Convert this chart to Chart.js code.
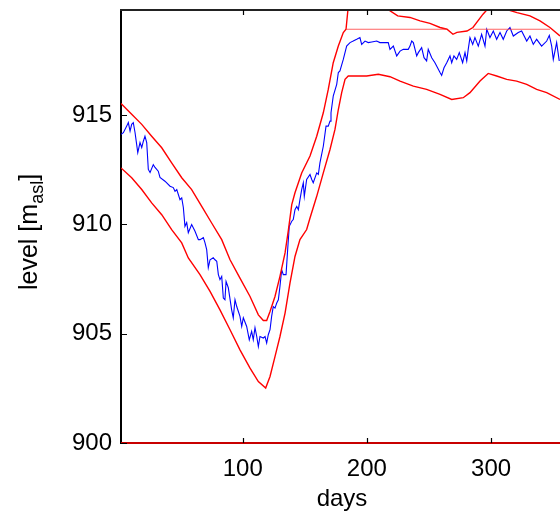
<!DOCTYPE html>
<html>
<head>
<meta charset="utf-8">
<script src="https://cdn.jsdelivr.net/npm/chart.js@4.4.0/dist/chart.umd.min.js"></script>
<style>
  html, body { margin: 0; padding: 0; background: #fff; overflow: hidden; }
  canvas { display: block; }
</style>
</head>
<body>
<canvas id="myChart" width="560" height="515"></canvas>
<script>
// observed reservoir level (blue)
const obsDays = [2.0, 3.9, 6.6, 7.9, 9.3, 10.6, 11.9, 13.3, 15.5, 17.3, 18.7, 20.0, 21.3, 22.7, 24.0, 25.4, 28.0, 29.4, 32.0, 33.4,
  37.4, 41.5, 44.1, 45.5, 46.9, 49.5, 50.9, 52.2, 53.5, 54.9, 56.2, 58.9, 61.6, 64.3, 65.6, 68.3, 69.6, 71.0, 72.3, 73.7,
  76.3, 77.7, 79.1, 80.4, 81.7, 83.1, 84.4, 85.7, 86.6, 88.4, 91.1, 92.4, 93.8, 95.2, 97.8, 99.2, 100.5, 103.2, 105.3, 107.2,
  108.5, 109.9, 111.3, 112.6, 113.9, 116.6, 118.0, 119.3, 120.6, 122.0, 123.3, 124.6, 126.0, 127.4, 128.7, 130.0, 131.4, 132.7, 134.9, 136.2,
  137.5, 139.5, 140.7, 142.1, 143.5, 144.8, 146.1, 147.5, 148.8, 149.6, 151.5, 154.2, 155.6, 156.8, 159.6, 160.9, 162.2, 164.9, 167.1, 168.9,
  170.3, 171.1, 172.9, 175.7, 177.0, 178.3, 181.0, 183.7, 186.4, 189.0, 191.8, 194.4, 195.8, 198.5, 201.1, 203.9, 207.9, 210.5, 217.2, 218.6,
  221.3, 224.0, 226.7, 229.3, 233.3, 234.7, 236.1, 237.4, 240.1, 241.4, 244.1, 246.0, 248.1, 249.4, 252.2, 254.8, 258.9, 260.2, 262.1, 264.3,
  266.9, 268.3, 270.1, 272.3, 274.4, 277.1, 279.0, 280.4, 281.6, 283.0, 285.2, 287.0, 289.7, 292.4, 295.1, 296.5, 299.1, 301.8, 304.5, 307.2,
  309.8, 312.6, 315.2, 317.9, 321.9, 324.6, 328.7, 331.3, 334.0, 336.7, 340.7, 344.8, 346.9, 348.8, 350.1, 352.8, 354.9];
const obsLevel = [914.11, 914.19, 914.49, 914.65, 914.26, 914.57, 914.65, 914.20, 913.28, 913.74, 913.51, 913.80, 914.03, 913.74, 912.51, 912.37, 912.73, 912.60, 912.43, 912.14,
  911.97, 911.74, 911.68, 911.51, 911.59, 911.13, 911.21, 910.77, 909.91, 910.08, 909.62, 909.99, 909.68, 909.30, 909.30, 909.39, 909.16, 908.84, 908.02, 908.38,
  908.47, 908.38, 908.31, 907.70, 907.47, 907.62, 906.63, 906.55, 907.39, 907.10, 906.09, 905.73, 906.55, 906.24, 905.79, 905.33, 905.73, 905.33, 904.72, 905.10,
  904.72, 905.27, 904.87, 904.41, 904.87, 904.80, 904.87, 904.57, 904.95, 905.18, 905.79, 906.24, 906.17, 906.40, 906.55, 907.16, 907.92, 907.70, 907.70, 908.84,
  909.91, 910.14, 910.22, 910.67, 910.82, 910.67, 911.13, 911.59, 911.90, 911.28, 912.05, 912.28, 912.05, 911.90, 912.35, 912.28, 912.81, 913.57, 914.49, 914.49,
  914.72, 915.10, 915.86, 916.40, 916.94, 917.01, 917.54, 918.15, 918.31, 918.38, 918.46, 918.54, 918.23, 918.38, 918.31, 918.34, 918.38, 918.31, 918.31, 918.00,
  918.15, 917.70, 917.92, 918.00, 918.00, 918.15, 918.38, 918.31, 917.70, 917.85, 918.08, 917.62, 917.47, 918.00, 917.62, 917.39, 916.94, 916.81, 917.16, 917.39,
  917.70, 917.39, 917.70, 917.54, 917.85, 917.39, 917.85, 917.47, 918.00, 918.54, 918.23, 918.54, 918.15, 918.69, 918.15, 918.92, 918.54, 918.84, 918.46, 918.77,
  918.46, 918.84, 919.00, 918.61, 918.77, 918.84, 918.38, 918.61, 918.23, 918.46, 918.15, 918.38, 918.64, 918.15, 917.54, 918.31, 917.47];

// upper bound (red)
const upperDays = [2.0, 10.6, 18.7, 26.7, 34.8, 42.8, 50.9, 58.9, 67.0, 75.0, 83.1, 89.8, 97.8, 105.9, 112.6, 116.6, 119.3, 122.0, 126.0, 130.0,
  134.1, 136.7, 139.5, 142.1, 147.5, 154.2, 159.6, 164.9, 168.9, 172.9, 177.0, 181.0, 183.2, 184.8, 195.0, 205.0, 215.0, 224.8, 234.7, 242.8,
  250.8, 258.9, 264.5, 269.3, 272.5, 280.6, 285.4, 293.5, 297.5, 305.0, 312.8, 320.9, 331.3, 339.4, 347.4, 355.5];
const upperLevel = [915.53, 915.03, 914.57, 914.03, 913.50, 912.81, 912.13, 911.59, 910.82, 910.06, 909.30, 908.38, 907.54, 906.70, 905.86, 905.60, 905.60, 906.01, 906.70, 907.62,
  908.69, 909.70, 910.90, 911.44, 912.35, 913.12, 914.03, 915.10, 916.17, 917.39, 918.15, 918.77, 918.92, 919.85, 919.90, 919.95, 919.90, 919.53, 919.46, 919.30,
  919.19, 919.00, 918.92, 918.69, 918.78, 918.84, 919.00, 919.61, 919.86, 919.95, 919.82, 919.68, 919.53, 919.30, 919.00, 918.61];

// lower bound (red)
const lowerDays = [2.0, 10.6, 18.7, 26.7, 34.8, 42.8, 50.9, 56.2, 65.6, 73.7, 81.7, 89.8, 97.8, 105.9, 112.6, 118.5, 122.0, 126.0, 130.0, 134.1,
  138.1, 142.1, 146.1, 151.5, 154.2, 159.6, 164.9, 170.3, 174.3, 177.0, 179.7, 182.4, 185.0, 191.8, 199.8, 209.2, 218.6, 226.7, 237.4, 248.1,
  258.9, 268.3, 277.6, 283.0, 291.1, 297.7, 304.5, 312.6, 320.6, 328.7, 336.7, 344.8, 355.5];
const lowerLevel = [912.58, 912.13, 911.59, 910.98, 910.44, 909.76, 909.15, 908.46, 907.70, 906.93, 906.09, 905.18, 904.26, 903.42, 902.81, 902.51, 903.04, 903.95, 904.87, 905.94,
  907.32, 908.53, 909.30, 909.76, 910.29, 911.28, 912.35, 913.42, 914.34, 915.25, 916.02, 916.63, 916.78, 916.78, 916.78, 916.86, 916.75, 916.55, 916.32, 916.17,
  915.94, 915.71, 915.79, 916.02, 916.55, 916.90, 916.78, 916.63, 916.55, 916.40, 916.17, 916.02, 915.71];

// maximum operating level (light red) and minimum level (dark red)
const capDays = [183.2, 264.5, null, 285.4, 347.4];
const capLevel = [918.92, 918.92, null, 918.92, 918.92];
const minDays = [2, 355.5];
const minLevel = [900, 900];

const xTicks = [100, 200, 300];
const yTicks = [900, 905, 910, 915];

function pts(xs, ys) {
  return xs.map(function (x, i) { return x === null ? { x: NaN, y: null } : { x: x, y: ys[i] }; });
}

const FONT = '"Liberation Sans", Arial, sans-serif';

// inside tick marks, top box line and axis titles
const decor = {
  id: 'decor',
  afterDraw(chart) {
    const ctx = chart.ctx;
    const a = chart.chartArea;
    const xs = chart.scales.x, ys = chart.scales.y;
    ctx.save();
    ctx.strokeStyle = '#222';
    ctx.lineWidth = 2;
    ctx.beginPath();
    ctx.moveTo(a.left - 1, a.top);
    ctx.lineTo(a.right, a.top);
    ctx.stroke();
    ctx.lineWidth = 1.2;
    ctx.strokeStyle = '#000';
    ctx.beginPath();
    xTicks.forEach(function (t) {
      const px = Math.round(xs.getPixelForValue(t)) + 0.5;
      ctx.moveTo(px, a.bottom); ctx.lineTo(px, a.bottom - 5);
      ctx.moveTo(px, a.top); ctx.lineTo(px, a.top + 5);
    });
    yTicks.forEach(function (t) {
      const py = Math.round(ys.getPixelForValue(t)) + 0.5;
      ctx.moveTo(a.left, py); ctx.lineTo(a.left + 6, py);
    });
    ctx.stroke();

    ctx.fillStyle = '#000';
    ctx.font = '24px ' + FONT;
    ctx.textAlign = 'center';
    ctx.textBaseline = 'alphabetic';
    ctx.fillText('days', 342, 506);

    ctx.translate(37, 290);
    ctx.rotate(-Math.PI / 2);
    ctx.textAlign = 'left';
    ctx.font = '25px ' + FONT;
    const t1 = 'level [m';
    ctx.fillText(t1, 0, 0);
    let w = ctx.measureText(t1).width;
    ctx.font = '18px ' + FONT;
    ctx.fillText('asl', w, 6);
    w += ctx.measureText('asl').width;
    ctx.font = '25px ' + FONT;
    ctx.fillText(']', w, 0);
    ctx.restore();
  }
};

new Chart(document.getElementById('myChart').getContext('2d'), {
  type: 'line',
  data: {
    datasets: [
      { label: 'min', data: pts(minDays, minLevel), borderColor: '#c80000', borderWidth: 2, clip: 4 },
      { label: 'cap', data: pts(capDays, capLevel), borderColor: 'rgba(255,60,60,0.8)', borderWidth: 1.2, spanGaps: false },
      { label: 'upper', data: pts(upperDays, upperLevel), borderColor: '#ff0000', borderWidth: 1.4 },
      { label: 'lower', data: pts(lowerDays, lowerLevel), borderColor: '#ff0000', borderWidth: 1.4 },
      { label: 'observed', data: pts(obsDays, obsLevel), borderColor: '#0000ff', borderWidth: 1.1 }
    ]
  },
  options: {
    responsive: false,
    animation: false,
    devicePixelRatio: 1,
    layout: { padding: { left: 0, right: 0, top: 10, bottom: 0 } },
    elements: { point: { radius: 0 }, line: { tension: 0 } },
    plugins: { legend: { display: false }, tooltip: { enabled: false } },
    scales: {
      x: {
        type: 'linear',
        min: 2,
        max: 355.5,
        afterFit: function (s) { s.height = 72; s.paddingLeft = 0; s.paddingRight = 0; },
        afterBuildTicks: function (s) { s.ticks = xTicks.map(function (v) { return { value: v }; }); },
        grid: { display: false, drawTicks: false },
        border: { display: true, color: '#000', width: 1.5 },
        ticks: { color: '#000', font: { family: FONT, size: 24 }, padding: 12, maxRotation: 0 }
      },
      y: {
        type: 'linear',
        min: 900,
        max: 919.8,
        afterFit: function (s) { s.width = 121; s.paddingTop = 0; s.paddingBottom = 0; },
        afterBuildTicks: function (s) { s.ticks = yTicks.map(function (v) { return { value: v }; }); },
        grid: { display: false, drawTicks: false },
        border: { display: true, color: '#000', width: 2 },
        ticks: { color: '#000', font: { family: FONT, size: 24 }, padding: 9 }
      }
    }
  },
  plugins: [decor]
});
</script>
</body>
</html>
